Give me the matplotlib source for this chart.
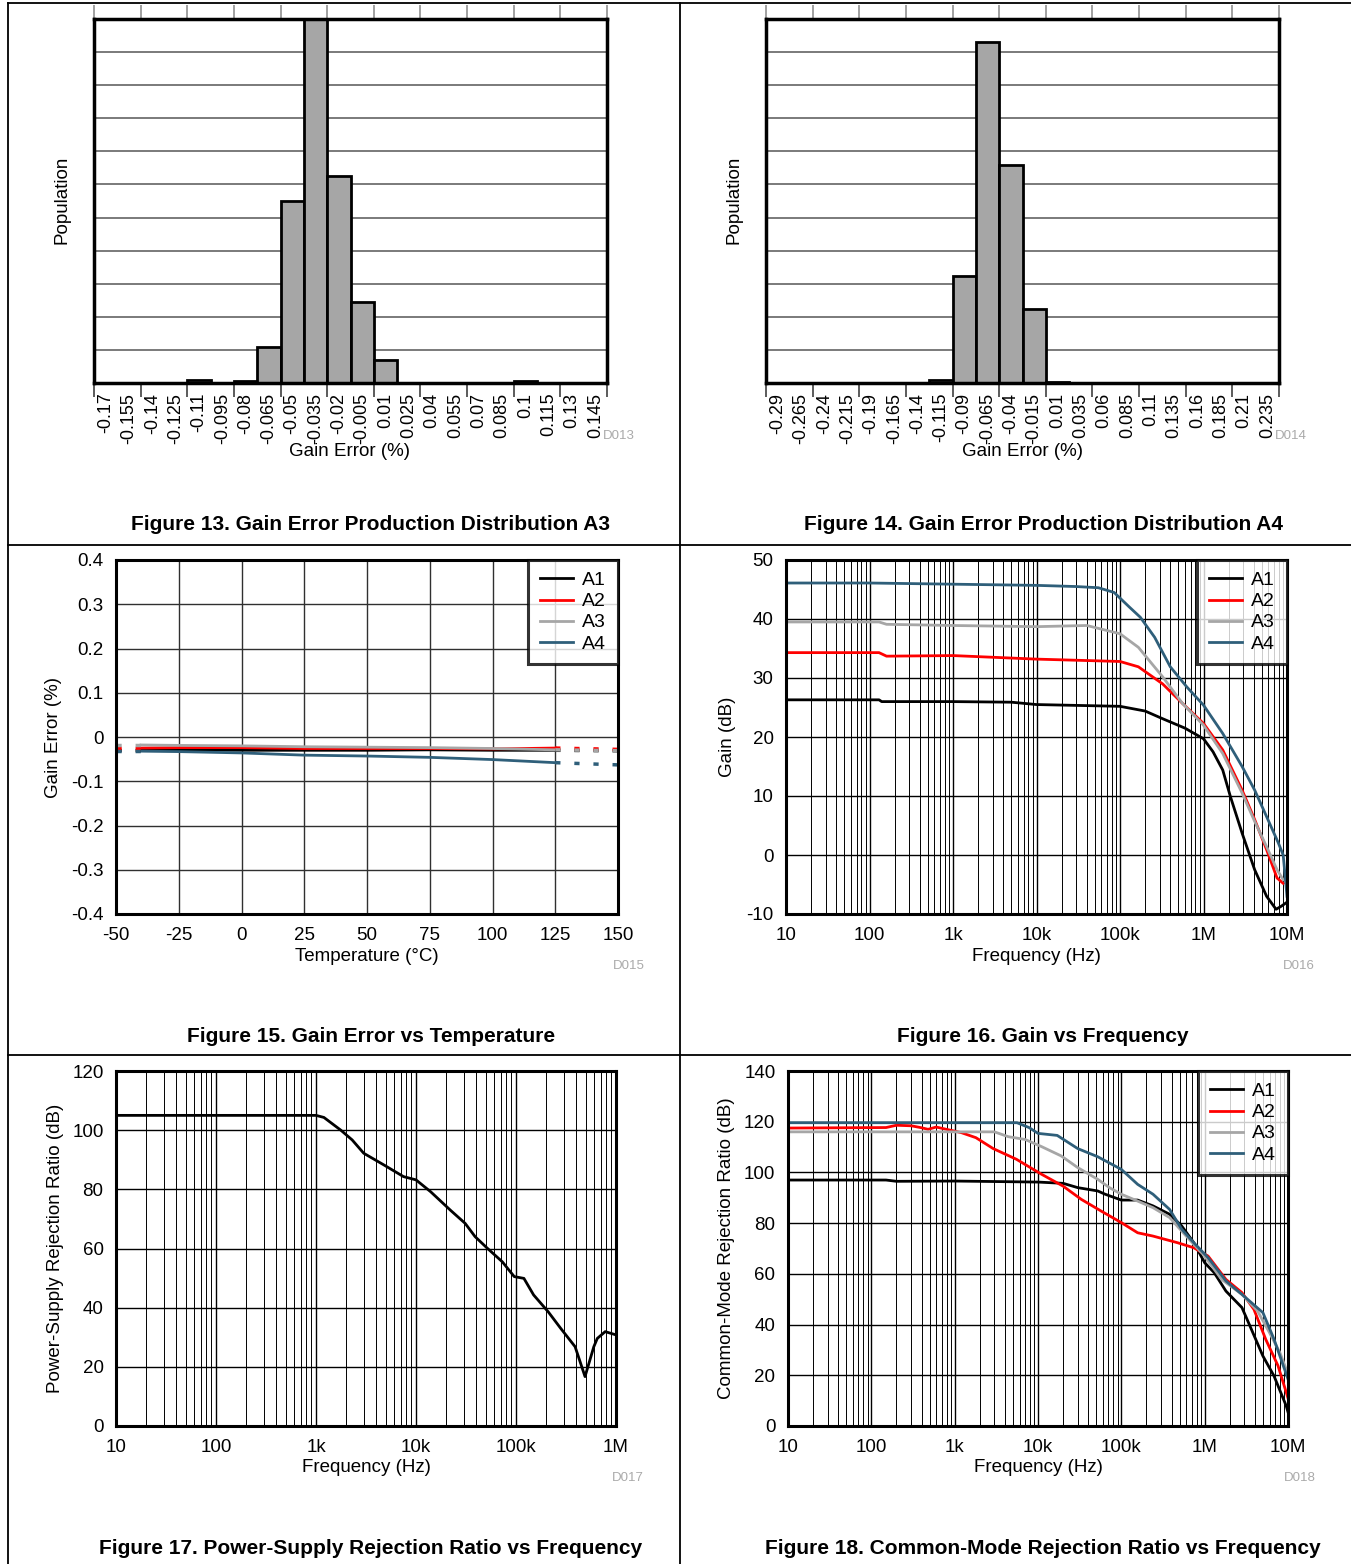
import numpy as np
import matplotlib
matplotlib.use("Agg")
import matplotlib.pyplot as plt
from matplotlib.lines import Line2D
from matplotlib.ticker import NullFormatter, FixedLocator

plt.rcParams['font.family'] = ['Liberation Sans', 'DejaVu Sans']
plt.rcParams['axes.unicode_minus'] = False

# ---- data ----
# Figure 13: gain error histogram, A3
hist13_bins = [-0.17, -0.155, -0.14, -0.125, -0.11, -0.095, -0.08, -0.065, -0.05, -0.035, -0.02,
               -0.005, 0.01, 0.025, 0.04, 0.055, 0.07, 0.085, 0.1, 0.115, 0.13, 0.145]
hist13_labels = ["-0.17", "-0.155", "-0.14", "-0.125", "-0.11", "-0.095", "-0.08", "-0.065", "-0.05",
                 "-0.035", "-0.02", "-0.005", "0.01", "0.025", "0.04", "0.055", "0.07", "0.085",
                 "0.1", "0.115", "0.13", "0.145"]
hist13_counts = [0, 0, 0, 0, 0.1, 0, 0.05, 1.08, 5.5, 11, 6.26, 2.44, 0.70, 0, 0, 0, 0, 0, 0.05, 0, 0, 0]

# Figure 14: gain error histogram, A4
hist14_bins = [-0.29, -0.265, -0.24, -0.215, -0.19, -0.165, -0.14, -0.115, -0.09, -0.065, -0.04,
               -0.015, 0.01, 0.035, 0.06, 0.085, 0.11, 0.135, 0.16, 0.185, 0.21, 0.235]
hist14_labels = ["-0.29", "-0.265", "-0.24", "-0.215", "-0.19", "-0.165", "-0.14", "-0.115", "-0.09",
                 "-0.065", "-0.04", "-0.015", "0.01", "0.035", "0.06", "0.085", "0.11", "0.135",
                 "0.16", "0.185", "0.21", "0.235"]
hist14_counts = [0, 0, 0, 0, 0, 0, 0, 0.1, 3.22, 10.32, 6.6, 2.25, 0.03, 0, 0, 0, 0, 0, 0, 0, 0, 0]

# Figure 15: gain error vs temperature
temp = [-40, -25, 0, 25, 50, 75, 100, 125]
ge_a1 = [-0.029, -0.029, -0.030, -0.030, -0.030, -0.029, -0.030, -0.030]
ge_a2 = [-0.025, -0.024, -0.024, -0.026, -0.026, -0.026, -0.027, -0.025]
ge_a3 = [-0.018, -0.019, -0.020, -0.022, -0.023, -0.024, -0.026, -0.029]
ge_a4 = [-0.032, -0.033, -0.036, -0.041, -0.043, -0.046, -0.051, -0.058]
temp_lo = [-50, -40]
temp_hi = [125, 150]
ge_lo = {"A1": [-0.029, -0.029], "A2": [-0.025, -0.025], "A3": [-0.018, -0.018], "A4": [-0.032, -0.032]}
ge_hi = {"A1": [-0.030, -0.031], "A2": [-0.025, -0.028], "A3": [-0.029, -0.031], "A4": [-0.058, -0.063]}

# Figure 16: gain vs frequency
g_f1 = [10, 100, 130, 140, 1e3, 5e3, 1e4, 1e5, 2e5, 3.24e5, 6e5, 1e6, 1.3e6, 1.7e6, 2.1e6, 2.9e6, 4.1e6, 5.7e6, 7.4e6, 8.5e6, 1e7]
g_a1 = [26.3, 26.3, 26.3, 26.0, 26.0, 25.9, 25.5, 25.2, 24.4, 23.1, 21.5, 19.7, 17.5, 14.4, 9.9, 3.7, -2.5, -7.0, -9.2, -8.7, -8.0]
g_f2 = [10, 100, 130, 160, 1e3, 1e4, 1e5, 1.66e5, 3.24e5, 5.6e5, 1e6, 1.7e6, 2.9e6, 4.1e6, 5.7e6, 7.6e6, 9e6]
g_a2 = [34.3, 34.3, 34.3, 33.7, 33.8, 33.2, 32.8, 31.9, 29.0, 25.7, 22.3, 17.8, 11.0, 6.0, 0.9, -3.9, -4.8]
g_f3 = [10, 100, 130, 160, 1e3, 1e4, 4e4, 1e5, 1.66e5, 3.24e5, 5.6e5, 1e6, 1.7e6, 2.9e6, 4.1e6, 5.7e6, 7.6e6, 9e6]
g_a3 = [39.5, 39.5, 39.5, 39.1, 38.9, 38.7, 38.9, 37.5, 35.2, 30.2, 25.7, 22.0, 17.2, 10.5, 5.7, 1.4, -2.5, -4.2]
g_f4 = [10, 100, 1e3, 1e4, 3e4, 5.5e4, 8.5e4, 1.3e5, 1.75e5, 2.6e5, 4e5, 6.3e5, 1e6, 1.7e6, 2.9e6, 4.1e6, 5.7e6, 7.9e6, 9e6, 1e7]
g_a4 = [46.1, 46.1, 45.9, 45.7, 45.5, 45.3, 44.5, 42.0, 40.3, 36.9, 31.9, 28.5, 25.4, 20.6, 15.0, 11.0, 6.5, 2.0, 0.0, -7.0]

# Figure 17: PSRR vs frequency
psrr_f = [10, 1e3, 1.2e3, 1.77e3, 2.3e3, 3e3, 4.8e3, 7.5e3, 1e4, 1.4e4, 2.2e4, 3.1e4, 3.9e4, 5.2e4,
          7.3e4, 9.6e4, 1.2e5, 1.5e5, 2.1e5, 2.8e5, 3.9e5, 4.9e5, 6e5, 6.5e5, 7.8e5, 1e6]
psrr = [105, 105, 104.3, 100, 96.7, 92.2, 88.2, 84.3, 83.2, 79.2, 73, 68.5, 64, 60,
        55.5, 50.5, 49.9, 44.3, 38.6, 33, 26.8, 16.7, 26.8, 29.6, 31.9, 30.8]

# Figure 18: CMRR vs frequency
c_f1 = [10, 150, 200, 1e3, 1e4, 2e4, 3e4, 5.2e4, 6.4e4, 1e5, 1.57e5, 2.4e5, 3.8e5, 5.3e5, 7.4e5,
        1e6, 1.3e6, 1.8e6, 2.8e6, 3.5e6, 5e6, 6.8e6, 9.5e6, 1e7]
c_a1 = [97, 97, 96.5, 96.6, 96.2, 95.7, 94, 92.7, 91.4, 89.1, 89.1, 86.8, 83.5, 78.9, 72.3,
        64.4, 60.5, 53.2, 46.7, 39.4, 27.6, 19.7, 8.0, 5.5]
c_f2 = [10, 150, 200, 300, 390, 480, 600, 1.2e3, 1.8e3, 2.9e3, 5.5e3, 1.1e4, 2e4, 3.3e4, 5.7e4,
        1e5, 1.57e5, 2.4e5, 4.7e5, 7.4e5, 1.1e6, 1.8e6, 2.8e6, 3.9e6, 5.4e6, 7.6e6, 1e7]
c_a2 = [117.5, 117.7, 118.6, 118.4, 117.7, 117.0, 117.9, 115.7, 113.7, 109.4, 105.2, 99.3, 94.6, 89.4, 84.8,
        80.2, 76.2, 74.9, 72.3, 70.3, 67, 57.8, 52.6, 46, 34.2, 23.7, 11.0]
c_f3 = [10, 3e3, 4.4e3, 7e3, 1.1e4, 1.9e4, 3e4, 5.2e4, 7.2e4, 1e5, 1.57e5, 2.4e5, 3.8e5, 6e5,
        1e6, 1.6e6, 2.8e6, 4.3e6, 6e6, 8e6, 1e7]
c_a3 = [116, 116, 114.1, 113, 110.2, 106.5, 101.9, 97.3, 94, 91.4, 88.7, 86.1, 82.2, 74.9,
        67, 57.8, 51.9, 45.4, 36.8, 28.9, 20.5]
c_f4 = [10, 5.6e3, 7.8e3, 1e4, 1.7e4, 3e4, 5.2e4, 1e5, 1.57e5, 2.4e5, 3.8e5, 5.3e5, 7.4e5,
        1.1e6, 1.8e6, 2.8e6, 5e6, 6.8e6, 1e7]
c_a4 = [119.6, 119.6, 117.7, 115.4, 114.6, 109.4, 106.2, 101.2, 95.3, 91.4, 85.4, 77.6, 72.3,
        66.4, 57.2, 51.9, 44.7, 34.2, 18.5]

series_names = ["A1", "A2", "A3", "A4"]
colors = {"A1": "#000000", "A2": "#FF0000", "A3": "#A6A6A6", "A4": "#2F5F7A"}

freq_ticks = [10, 100, 1e3, 1e4, 1e5, 1e6, 1e7]
freq_labels = ["10", "100", "1k", "10k", "100k", "1M", "10M"]

W, H = 1351, 1564
fig = plt.figure(figsize=(W / 100, H / 100), dpi=100)

TICK_FS = 13.5
LABEL_FS = 13.5


def box(x0, y0, x1, y1):
    return [x0 / W, 1 - y1 / H, (x1 - x0) / W, (y1 - y0) / H]


def ftext(x, y, s, **kw):
    fig.text(x / W, 1 - y / H, s, **kw)


def style_spines(ax, lw=2.2):
    for sp in ax.spines.values():
        sp.set_linewidth(lw)
        sp.set_color("black")
        sp.set_zorder(5)


def histogram(ax, bins, labels, counts, step):
    ax.bar(bins, counts, width=step, color="#A6A6A6", edgecolor="black", linewidth=2, zorder=3)
    ax.set_xlim(bins[0] - step / 2, bins[-1] + step / 2)
    ax.set_ylim(0, 11)
    ax.set_yticks(range(12))
    ax.set_yticklabels([])
    ax.tick_params(axis="y", length=0)
    ax.yaxis.grid(True, color="#707070", linewidth=1.3, zorder=0)
    ax.set_xticks(bins)
    ax.set_xticklabels(labels, rotation=90, fontsize=13)
    ax.tick_params(axis="x", which="major", length=0, pad=7)
    edges = [bins[0] - step / 2 + 2 * i * step for i in range(12)]
    ax.xaxis.set_minor_locator(FixedLocator(edges))
    ax.tick_params(axis="x", which="minor", length=10, width=1.2, color="#404040", direction="out")
    top = ax.secondary_xaxis("top")
    top.set_xticks(edges)
    top.set_xticklabels([])
    top.tick_params(length=10, width=1.2, color="#909090")
    top.spines["top"].set_visible(False)
    style_spines(ax, 2.5)


# ---- Figure 13 ----
ax13 = fig.add_axes(box(94, 19, 607, 383))
histogram(ax13, hist13_bins, hist13_labels, hist13_counts, 0.015)
ftext(62, 200, "Population", rotation=90, fontsize=LABEL_FS, ha="center", va="center")
ftext(350, 452, "Gain Error (%)", fontsize=LABEL_FS, ha="center", va="center")
ftext(619, 436, "D013", fontsize=9.5, color="#AAAAAA", ha="center", va="center")

# ---- Figure 14 ----
ax14 = fig.add_axes(box(766, 19, 1279, 383))
histogram(ax14, hist14_bins, hist14_labels, hist14_counts, 0.025)
ftext(734, 200, "Population", rotation=90, fontsize=LABEL_FS, ha="center", va="center")
ftext(1022, 452, "Gain Error (%)", fontsize=LABEL_FS, ha="center", va="center")
ftext(1291, 436, "D014", fontsize=9.5, color="#AAAAAA", ha="center", va="center")


def legend(ax):
    leg = ax.legend(loc="upper right", fontsize=14, frameon=True, fancybox=False,
                    borderaxespad=0, handlelength=1.7, handletextpad=0.5,
                    labelspacing=0.18, borderpad=0.6)
    leg.get_frame().set_edgecolor("black")
    leg.get_frame().set_linewidth(2.2)
    leg.set_zorder(10)


# ---- Figure 15 ----
ax15 = fig.add_axes(box(116, 560, 618, 914))
ge = {"A1": ge_a1, "A2": ge_a2, "A3": ge_a3, "A4": ge_a4}
for name in series_names:
    ax15.plot(temp, ge[name], color=colors[name], linewidth=2, label=name, zorder=3)
for name in series_names:
    ax15.plot(temp_lo, ge_lo[name], color=colors[name], linewidth=2.5, linestyle=(0, (1.5, 4)), zorder=3)
    ax15.plot(temp_hi, ge_hi[name], color=colors[name], linewidth=2.5, linestyle=(0, (1.5, 4)), zorder=3)
ax15.set_xlim(-50, 150)
ax15.set_ylim(-0.4, 0.4)
ax15.set_xticks(range(-50, 151, 25))
ax15.set_yticks(np.round(np.arange(-0.4, 0.41, 0.1), 1))
ax15.set_yticklabels(["-0.4", "-0.3", "-0.2", "-0.1", "0", "0.1", "0.2", "0.3", "0.4"])
ax15.tick_params(length=0, labelsize=TICK_FS, pad=9)
ax15.grid(True, color="#303030", linewidth=1)
style_spines(ax15)
legend(ax15)
ftext(54, 737, "Gain Error (%)", rotation=90, fontsize=LABEL_FS, ha="center", va="center")
ftext(367, 957, "Temperature (°C)", fontsize=LABEL_FS, ha="center", va="center")
ftext(629, 966, "D015", fontsize=9.5, color="#AAAAAA", ha="center", va="center")


def log_axes(ax, xmax, ylim, ystep):
    ax.set_xscale("log")
    ax.set_xlim(10, xmax)
    ax.set_ylim(*ylim)
    ticks = [t for t in freq_ticks if t <= xmax]
    ax.set_xticks(ticks)
    ax.set_xticklabels(freq_labels[:len(ticks)])
    ax.xaxis.set_minor_formatter(NullFormatter())
    ax.set_yticks(range(ylim[0], ylim[1] + 1, ystep))
    ax.tick_params(which="both", length=0, labelsize=TICK_FS, pad=9)
    ax.grid(True, which="major", color="black", linewidth=1)
    ax.grid(True, which="minor", axis="x", color="black", linewidth=0.7)
    style_spines(ax)


# ---- Figure 16 ----
ax16 = fig.add_axes(box(786, 560, 1287, 914))
gf = {"A1": (g_f1, g_a1), "A2": (g_f2, g_a2), "A3": (g_f3, g_a3), "A4": (g_f4, g_a4)}
for name in series_names:
    ax16.plot(gf[name][0], gf[name][1], color=colors[name], linewidth=2, label=name, zorder=3)
log_axes(ax16, 1e7, (-10, 50), 10)
legend(ax16)
ftext(728, 737, "Gain (dB)", rotation=90, fontsize=LABEL_FS, ha="center", va="center")
ftext(1036, 957, "Frequency (Hz)", fontsize=LABEL_FS, ha="center", va="center")
ftext(1299, 966, "D016", fontsize=9.5, color="#AAAAAA", ha="center", va="center")

# ---- Figure 17 ----
ax17 = fig.add_axes(box(116, 1071, 616, 1426))
ax17.plot(psrr_f, psrr, color="black", linewidth=2, zorder=3)
log_axes(ax17, 1e6, (0, 120), 20)
ftext(55, 1248, "Power-Supply Rejection Ratio (dB)", rotation=90, fontsize=LABEL_FS, ha="center", va="center")
ftext(366, 1468, "Frequency (Hz)", fontsize=LABEL_FS, ha="center", va="center")
ftext(628, 1478, "D017", fontsize=9.5, color="#AAAAAA", ha="center", va="center")

# ---- Figure 18 ----
ax18 = fig.add_axes(box(788, 1071, 1288, 1426))
cf = {"A1": (c_f1, c_a1), "A2": (c_f2, c_a2), "A3": (c_f3, c_a3), "A4": (c_f4, c_a4)}
for name in series_names:
    ax18.plot(cf[name][0], cf[name][1], color=colors[name], linewidth=2, label=name, zorder=3)
log_axes(ax18, 1e7, (0, 140), 20)
legend(ax18)
ftext(727, 1248, "Common-Mode Rejection Ratio (dB)", rotation=90, fontsize=LABEL_FS, ha="center", va="center")
ftext(1038, 1468, "Frequency (Hz)", fontsize=LABEL_FS, ha="center", va="center")
ftext(1300, 1478, "D018", fontsize=9.5, color="#AAAAAA", ha="center", va="center")

# ---- captions ----
cap = dict(fontsize=15, fontweight="bold", ha="center", va="center")
ftext(371, 524, "Figure 13. Gain Error Production Distribution A3", **cap)
ftext(1043, 524, "Figure 14. Gain Error Production Distribution A4", **cap)
ftext(371, 1036, "Figure 15. Gain Error vs Temperature", **cap)
ftext(1043, 1036, "Figure 16. Gain vs Frequency", **cap)
ftext(371, 1548, "Figure 17. Power-Supply Rejection Ratio vs Frequency", **cap)
ftext(1043, 1548, "Figure 18. Common-Mode Rejection Ratio vs Frequency", **cap)


# ---- table borders ----
def hline(y, x0, x1):
    fig.add_artist(Line2D([x0 / W, x1 / W], [1 - y / H, 1 - y / H], color="black", linewidth=1.3))


def vline(x, y0, y1):
    fig.add_artist(Line2D([x / W, x / W], [1 - y0 / H, 1 - y1 / H], color="black", linewidth=1.3))


hline(3, 8, W)
hline(545, 8, W)
hline(1055, 8, W)
vline(8, 3, H)
vline(680, 3, H)

fig.savefig("out.png", dpi=100)
